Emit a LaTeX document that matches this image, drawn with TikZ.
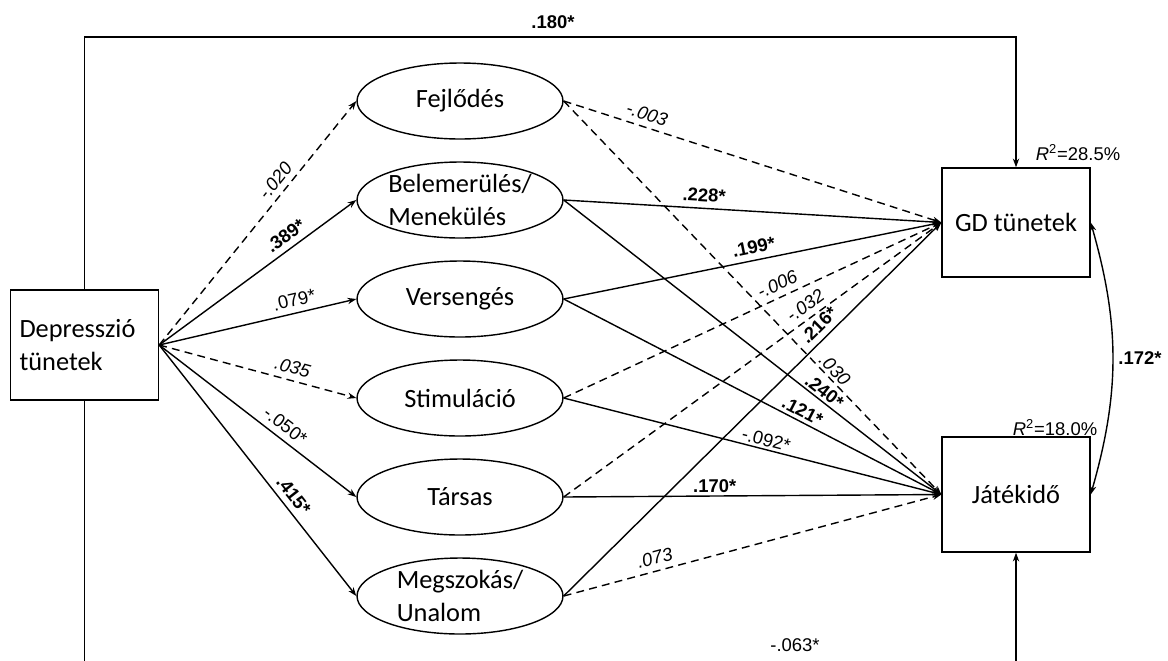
\documentclass[tikz,border=0pt]{standalone}
\usepackage{fontspec}
\setmainfont{Carlito}
\newfontfamily\arialfont{Liberation Sans}
\usetikzlibrary{arrows.meta,shapes.geometric}

\tikzset{
  var/.style={draw, line width=0.8pt, minimum width=2.96cm, inner sep=0pt,
    font=\fontsize{15}{19}\selectfont},
  fac/.style={ellipse, draw, line width=0.8pt, minimum width=4.12cm,
    minimum height=1.52cm, inner sep=0pt, align=left,
    font=\fontsize{15}{19}\selectfont},
  sig/.style={-{Stealth[length=5pt,width=3.6pt]}, line width=0.8pt},
  ns/.style={sig, dash pattern=on 4.5pt off 3pt},
  lab/.style={font=\arialfont\fontsize{10.5}{12}\selectfont},
  blab/.style={font=\arialfont\bfseries\fontsize{10.5}{12}\selectfont},
  rl/.style={lab, sloped, above},
  il/.style={lab, font=\arialfont\itshape\fontsize{10.5}{12}\selectfont, sloped, above},
  bl/.style={blab, sloped, above},
}

\begin{document}
\begin{tikzpicture}[x=0.02cm, y=-0.02cm]
  \useasboundingbox (0,0) rectangle (1168,660);
  \clip (0,0) rectangle (1168,660);

  % observed variables
  \node[var, text width=2.6cm, align=left, minimum height=2.2cm] (dep) at (84.5,345) {Depresszió\\tünetek};
  \node[var, minimum height=2.18cm] (gd) at (1016,222.5) {GD tünetek};
  \node[var, minimum height=2.3cm] (jat) at (1016,494.5) {Játékidő};

  % motives
  \node[fac] (fej) at (460,101) {Fejlődés};
  \node[fac] (bel) at (460,200) {Belemerülés/\\Menekülés};
  \node[fac] (ver) at (460,299) {Versengés};
  \node[fac] (sti) at (460,398) {Stimuláció};
  \node[fac] (tar) at (460,497) {Társas};
  \node[fac] (meg) at (460,596) {Megszokás/\\Unalom};

  % explained variance
  \node[lab] (r2gd) at (1078,153) {{\itshape R}\textsuperscript{2}=28.5\%};
  \node[lab] (r2jat) at (1055,428) {{\itshape R}\textsuperscript{2}=18.0\%};

  % depression -> motives
  \foreach \t/\v/\p/\l/\e in {fej/{-.020}/0.64/il/ns, bel/{.389*}/0.68/bl/sig,
      ver/{.079*}/0.70/rl/sig, sti/{.035}/0.66/il/ns,
      tar/{-.050*}/0.60/rl/sig, meg/{.415*}/0.63/bl/sig}
    \draw[\e] (dep.east) -- node[\l, pos=\p] {\v} (\t.west);

  % motives -> GD
  \draw[ns] (fej.east) -- node[il, pos=0.21] {-.003} (gd.west);
  \draw[sig] (bel.east) -- node[bl, pos=0.37] {.228*} (gd.west);
  \draw[sig] (ver.east) -- node[bl, pos=0.51] {.199*} (gd.west);
  \draw[ns] (sti.east) -- node[il, pos=0.58] {-.006} (gd.west);
  \draw[ns] (tar.east) -- node[il, pos=0.66] {-.032} (gd.west);
  \draw[sig] (meg.east) -- node[bl, pos=0.70] {.216*} (gd.west);

  % motives -> playing time
  \draw[ns] (fej.east) -- node[il, pos=0.70, above=-2pt] {.030} (jat.west);
  \draw[sig] (bel.east) -- node[bl, pos=0.675, above=-2pt] {.240*} (jat.west);
  \draw[sig] (ver.east) -- node[bl, pos=0.62, above=-1.5pt] {.121*} (jat.west);
  \draw[sig] (sti.east) -- node[rl, pos=0.53, above=-2pt] {-.092*} (jat.west);
  \draw[sig] (tar.east) -- node[bl, pos=0.40, above=-2pt] {.170*} (jat.west);
  \draw[ns] (meg.east) -- node[il, pos=0.25] {.073} (jat.west);

  % direct paths
  \coordinate (top) at (84.5,37);
  \coordinate (bot) at (84.5,668);
  \draw[sig] (dep.north) -- (top) -| (gd.north);
  \draw[sig] (dep.south) -- (bot) -| (jat.south);
  \node[blab] (d180) at (553,22) {.180*};
  \node[lab] (d063) at (795,645) {-.063*};

  % residual covariance
  \draw[{Stealth[length=5pt,width=3.6pt]}-{Stealth[length=5pt,width=3.6pt]}, line width=0.8pt]
    (gd.east) to[bend left=16] (jat.east);
  \node[blab] (c172) at (1140,358) {.172*};
\end{tikzpicture}
\end{document}
